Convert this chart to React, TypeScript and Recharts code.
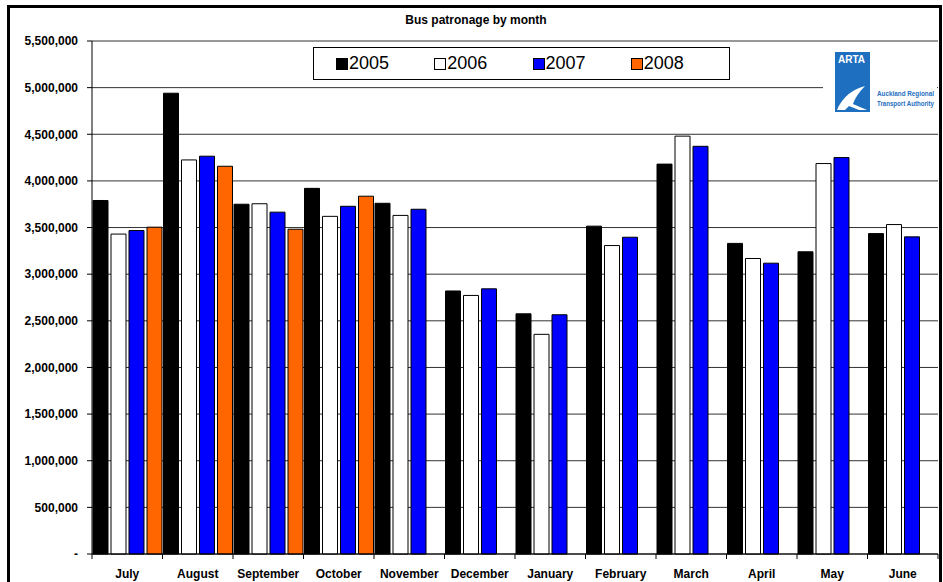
import React from "react";
import {
  BarChart,
  Bar,
  XAxis,
  YAxis,
  CartesianGrid,
  Legend,
} from "recharts";

const MONTHS = [
  "July",
  "August",
  "September",
  "October",
  "November",
  "December",
  "January",
  "February",
  "March",
  "April",
  "May",
  "June",
];

const Y2005 = [3790000, 4940000, 3750000, 3920000, 3760000, 2820000, 2575000, 3515000, 4180000, 3330000, 3240000, 3435000];
const Y2006 = [3430000, 4225000, 3755000, 3620000, 3630000, 2772000, 2355000, 3307000, 4480000, 3168000, 4186000, 3532000];
const Y2007 = [3468000, 4265000, 3665000, 3728000, 3696000, 2843000, 2565000, 3396000, 4371000, 3118000, 4250000, 3400000];
const Y2008 = [3504000, 4157000, 3482000, 3836000, null, null, null, null, null, null, null, null];

const Y_TICKS = [0, 500000, 1000000, 1500000, 2000000, 2500000, 3000000, 3500000, 4000000, 4500000, 5000000, 5500000];

const SERIES = [
  { key: "y2005", name: "2005", fill: "#000000" },
  { key: "y2006", name: "2006", fill: "#ffffff" },
  { key: "y2007", name: "2007", fill: "#0000ff" },
  { key: "y2008", name: "2008", fill: "#ff6600" },
];

const data = MONTHS.map((m, i) => ({
  month: m,
  y2005: Y2005[i],
  y2006: Y2006[i],
  y2007: Y2007[i],
  y2008: Y2008[i],
}));

const FONT = "'Liberation Sans', Arial, sans-serif";
const NARROW = "'Liberation Sans Narrow', 'Liberation Sans', Arial, sans-serif";
const W = 943;
const H = 582;
const MARGIN = { top: 41, right: 5, bottom: 0, left: 8 };
const Y_AXIS_W = 84;
const X_AXIS_H = 28;
const PLOT_W = W - MARGIN.left - Y_AXIS_W - MARGIN.right;
const BAND = PLOT_W / MONTHS.length;

const fmt = (v: number) => (v === 0 ? "-" : v.toLocaleString("en-US"));

function MonthTick(props: any) {
  const { x, y, payload, index } = props;
  return (
    <g>
      <line x1={x - BAND / 2} x2={x - BAND / 2} y1={y} y2={y + 5} stroke="#000" />
      {index === MONTHS.length - 1 && (
        <line x1={x + BAND / 2} x2={x + BAND / 2} y1={y} y2={y + 5} stroke="#000" />
      )}
      <text
        x={x}
        y={y + 24}
        textAnchor="middle"
        fontFamily={FONT}
        fontWeight="bold"
        fontSize={12}
        fill="#000"
      >
        {payload.value}
      </text>
    </g>
  );
}

function LegendBox(props: any) {
  const items = props.payload || [];
  return (
    <div
      style={{
        width: 417,
        height: 33,
        boxSizing: "border-box",
        border: "1px solid #000",
        background: "#fff",
        display: "flex",
        alignItems: "center",
        paddingLeft: 22,
        fontFamily: FONT,
        fontSize: 18,
        color: "#000",
      }}
    >
      {items.map((it: any) => (
        <div key={it.value} style={{ display: "flex", alignItems: "center", width: 103 }}>
          <span
            style={{
              display: "inline-block",
              width: 10,
              height: 10,
              background: it.color,
              border: "1px solid #000",
              marginRight: 1,
            }}
          />
          <span>{it.value}</span>
        </div>
      ))}
    </div>
  );
}

function Logo() {
  return (
    <svg
      width={120}
      height={74}
      style={{ position: "absolute", left: 823, top: 44 }}
    >
      <rect x={0} y={0} width={114} height={74} fill="#fff" />
      <rect x={12} y={8} width={35} height={60} fill="#1f6fc0" />
      <text x={15} y={19} fill="#fff" fontFamily={FONT} fontWeight="bold" fontSize={10}>
        ARTA
      </text>
      <path
        d="M14 66 C 18 56, 26 48, 36 44 L 42 42 C 36 48, 32 54, 30 60 L 44 66 L 36 66 L 26 62 L 22 66 Z"
        fill="#fff"
      />
      <text
        x={54}
        y={52}
        fill="#1f6fc0"
        fontFamily={NARROW}
        fontWeight="bold"
        fontSize={7}
        textLength={57}
        lengthAdjust="spacingAndGlyphs"
      >
        Auckland Regional
      </text>
      <text
        x={54}
        y={62}
        fill="#1f6fc0"
        fontFamily={NARROW}
        fontWeight="bold"
        fontSize={7}
        textLength={57}
        lengthAdjust="spacingAndGlyphs"
      >
        Transport Authority
      </text>
    </svg>
  );
}

export default function App() {
  return (
    <div style={{ position: "absolute", left: 0, top: 0, width: W, height: H, background: "#fff", overflow: "hidden" }}>
      <div
        style={{
          position: "absolute",
          left: 7,
          top: 5,
          width: 935,
          height: 600,
          boxSizing: "border-box",
          border: "3px solid #000",
        }}
      />
      <div
        style={{
          position: "absolute",
          left: 0,
          width: 952,
          top: 13,
          textAlign: "center",
          fontFamily: FONT,
          fontWeight: "bold",
          fontSize: 12,
        }}
      >
        Bus patronage by month
      </div>
      <div style={{ position: "absolute", left: 0, top: 0 }}>
        <BarChart
          width={W}
          height={H}
          data={data}
          margin={MARGIN}
          barCategoryGap={1}
          barGap={3}
        >
          <CartesianGrid vertical={false} stroke="#333" />
          <XAxis
            dataKey="month"
            height={X_AXIS_H}
            interval={0}
            tickSize={0}
            tickMargin={0}
            tickLine={false}
            axisLine={{ stroke: "#000" }}
            tick={<MonthTick />}
          />
          <YAxis
            width={Y_AXIS_W}
            domain={[0, 5500000]}
            ticks={Y_TICKS}
            interval={0}
            tickFormatter={fmt}
            tickSize={5}
            tickMargin={9}
            axisLine={{ stroke: "#000" }}
            tickLine={{ stroke: "#000" }}
            tick={{ fill: "#000", fontSize: 12, fontWeight: "bold", fontFamily: FONT }}
          />
          <YAxis
            yAxisId="r"
            orientation="right"
            width={0}
            domain={[0, 5500000]}
            tick={false}
            tickLine={false}
            axisLine={{ stroke: "#888" }}
          />
          <Legend
            layout="vertical"
            align="center"
            verticalAlign="middle"
            wrapperStyle={{ position: "absolute", left: 313, top: 47, width: 417 }}
            content={<LegendBox />}
          />
          {SERIES.map((s) => (
            <Bar
              key={s.key}
              dataKey={s.key}
              name={s.name}
              fill={s.fill}
              stroke="#000"
              strokeWidth={1}
              isAnimationActive={false}
            />
          ))}
        </BarChart>
      </div>
      <Logo />
    </div>
  );
}
